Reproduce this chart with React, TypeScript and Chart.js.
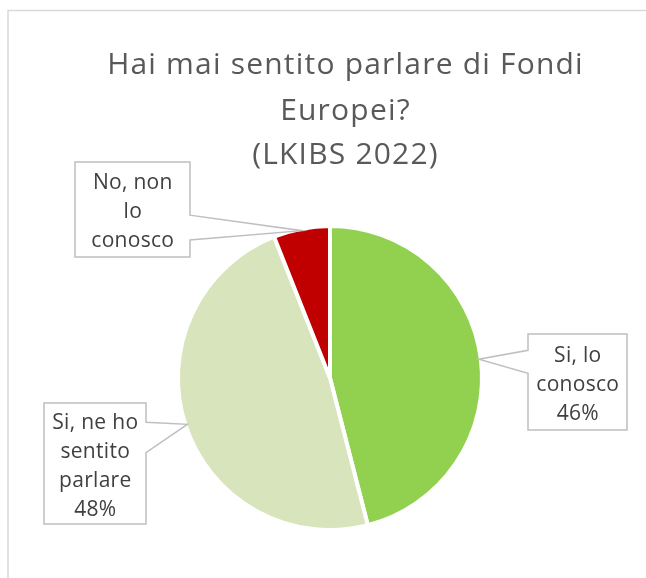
import React, { useEffect, useRef } from "react";
import { Chart, registerables } from "chart.js";

Chart.register(...registerables);

const categories = ["Si, lo conosco", "Si, ne ho sentito parlare", "No, non lo conosco"];
const values = [46, 48, 6];
const colors = ["#92D050", "#D8E4BC", "#C00000"];
const labelLines = [["Si, lo", "conosco"], ["Si, ne ho", "sentito", "parlare"], ["No, non", "lo", "conosco"]];
const showPercent = [true, true, false];
const titleLines = ["Hai mai sentito parlare di Fondi", "Europei?", "(LKIBS 2022)"];

// callout box layout relative to pie centre: dx, dy (box centre), w, h, pointer side and base fractions
const calloutLayout = [
  { dx: 247.5, dy: 4, w: 99, h: 96, side: "left", f0: 0.17, f1: 0.41 },
  { dx: -235, dy: 85.5, w: 102, h: 121, side: "right", f0: 0.16, f1: 0.41 },
  { dx: -197.5, dy: -168.5, w: 115, h: 95, side: "right", f0: 0.56, f1: 0.82 },
];

const FONT = "'Open Sans', Lato, sans-serif";

const decorPlugin = {
  id: "decor",
  beforeDraw(chart: any) {
    const ctx = chart.ctx;
    ctx.save();
    ctx.fillStyle = "#ffffff";
    ctx.fillRect(0, 0, chart.width, chart.height);
    ctx.strokeStyle = "#D9D9D9";
    ctx.lineWidth = 1.5;
    ctx.beginPath();
    ctx.moveTo(8, chart.height + 2);
    ctx.lineTo(8, 10.5);
    ctx.lineTo(chart.width + 2, 10.5);
    ctx.stroke();
    // title
    ctx.fillStyle = "#595959";
    ctx.font = `30px ${FONT}`;
    (ctx as any).letterSpacing = "1.2px";
    ctx.textAlign = "center";
    ctx.textBaseline = "alphabetic";
    const baselines = [74, 120, 164];
    titleLines.forEach((t, i) => ctx.fillText(t, 345.5, baselines[i]));
    ctx.restore();
  },
  afterDatasetsDraw(chart: any) {
    const ctx = chart.ctx;
    const meta = chart.getDatasetMeta(0);
    const data = chart.data.datasets[0].data as number[];
    const total = data.reduce((a, b) => a + b, 0);
    ctx.save();
    meta.data.forEach((arc: any, i: number) => {
      const p = arc.getProps(["x", "y", "startAngle", "endAngle", "outerRadius"], true);
      const mid = (p.startAngle + p.endAngle) / 2;
      const r = p.outerRadius - 2;
      const ax = p.x + Math.cos(mid) * r;
      const ay = p.y + Math.sin(mid) * r;
      const L = calloutLayout[i];
      const left = p.x + L.dx - L.w / 2;
      const top = p.y + L.dy - L.h / 2;
      const right = left + L.w;
      const bottom = top + L.h;
      const b0 = top + L.h * L.f0;
      const b1 = top + L.h * L.f1;
      ctx.beginPath();
      ctx.moveTo(left, top);
      ctx.lineTo(right, top);
      if (L.side === "right") {
        ctx.lineTo(right, b0);
        ctx.lineTo(ax, ay);
        ctx.lineTo(right, b1);
      }
      ctx.lineTo(right, bottom);
      ctx.lineTo(left, bottom);
      if (L.side === "left") {
        ctx.lineTo(left, b1);
        ctx.lineTo(ax, ay);
        ctx.lineTo(left, b0);
      }
      ctx.closePath();
      ctx.fillStyle = "#ffffff";
      ctx.fill();
      ctx.strokeStyle = "#BFBFBF";
      ctx.lineWidth = 1.5;
      ctx.stroke();

      const lines = [...labelLines[i]];
      if (showPercent[i]) lines.push(Math.round((data[i] / total) * 100) + "%");
      ctx.fillStyle = "#404040";
      ctx.font = `21px ${FONT}`;
      (ctx as any).letterSpacing = "0.3px";
      ctx.textAlign = "center";
      ctx.textBaseline = "alphabetic";
      const lh = 29;
      const cx = (left + right) / 2 + 0.3;
      const cy = (top + bottom) / 2 + 8.5;
      lines.forEach((t, k) => {
        ctx.fillText(t, cx, cy + (k - (lines.length - 1) / 2) * lh);
      });
    });
    ctx.restore();
  },
};

export default function App() {
  const ref = useRef<HTMLCanvasElement | null>(null);
  useEffect(() => {
    if (!ref.current) return;
    const chart = new Chart(ref.current, {
      type: "pie",
      data: {
        labels: categories,
        datasets: [
          {
            data: values,
            backgroundColor: colors,
            borderColor: "#ffffff",
            borderWidth: 4,
          },
        ],
      },
      options: {
        responsive: false,
        animation: false,
        radius: 152,
        layout: { padding: { left: 100, right: 86, top: 200, bottom: 22 } },
        plugins: {
          legend: { display: false },
          tooltip: { enabled: false },
          title: { display: false },
        },
      } as any,
      plugins: [decorPlugin],
    });
    return () => chart.destroy();
  }, []);
  return (
    <div style={{ position: "absolute", left: 0, top: 0, width: 646, height: 578 }}>
      <canvas ref={ref} width={646} height={578} style={{ display: "block" }} />
    </div>
  );
}
